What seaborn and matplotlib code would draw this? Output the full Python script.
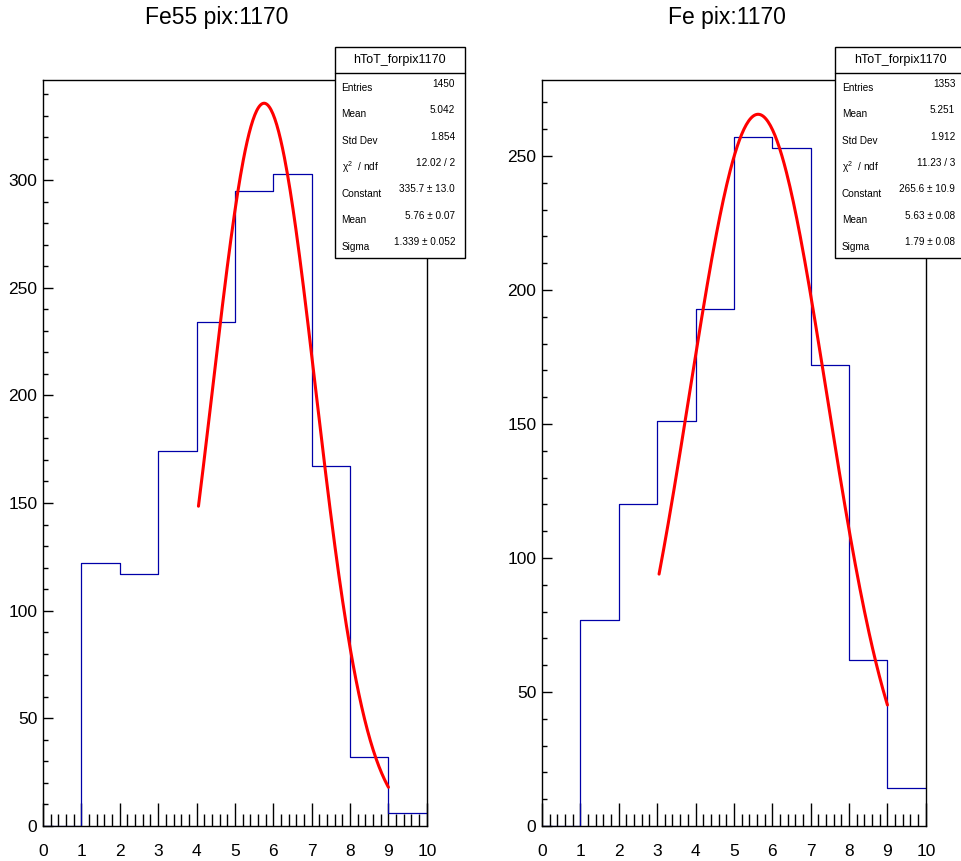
import numpy as np
import pandas as pd
import seaborn as sns
import matplotlib.pyplot as plt
from matplotlib.patches import Rectangle
from matplotlib.ticker import MultipleLocator

# histogram contents (bins of width 1 from 0 to 10)
bin_edges = [0, 1, 2, 3, 4, 5, 6, 7, 8, 9, 10]
counts_fe55 = [0, 122, 117, 174, 234, 295, 303, 167, 32, 6]
counts_fe = [0, 77, 120, 151, 193, 257, 253, 172, 62, 14]

# gaussian fit parameters (constant, mean, sigma) and fit ranges
fit_fe55 = [335.7, 5.76, 1.339]
fit_fe = [265.6, 5.63, 1.79]
range_fe55 = [4.05, 9.0]
range_fe = [3.05, 9.0]

titles = ['Fe55 pix:1170', 'Fe pix:1170']
stats_fe55 = [('Entries', '1450'), ('Mean', '5.042'), ('Std Dev', '1.854'),
              ('$\\chi^2$  / ndf', '12.02 / 2'), ('Constant', '335.7 ± 13.0'),
              ('Mean', '5.76 ± 0.07'), ('Sigma', '1.339 ± 0.052')]
stats_fe = [('Entries', '1353'), ('Mean', '5.251'), ('Std Dev', '1.912'),
            ('$\\chi^2$  / ndf', '11.23 / 3'), ('Constant', '265.6 ± 10.9'),
            ('Mean', '5.63 ± 0.08'), ('Sigma', '1.79 ± 0.08')]

sns.set_style('white')
plt.rcParams['font.family'] = ['Liberation Sans', 'DejaVu Sans']
plt.rcParams['mathtext.fontset'] = 'custom'
plt.rcParams['mathtext.rm'] = 'Liberation Sans'
plt.rcParams['mathtext.it'] = 'Liberation Sans'
plt.rcParams['text.color'] = 'black'
plt.rcParams['xtick.color'] = 'black'
plt.rcParams['ytick.color'] = 'black'

fig = plt.figure(figsize=(9.62, 8.61), dpi=100)

panels = [
    (0.0447, counts_fe55, fit_fe55, range_fe55, 346.5, titles[0], stats_fe55, 0.348, 0.2255),
    (0.5634, counts_fe, fit_fe, range_fe, 278.4, titles[1], stats_fe, 0.868, 0.7557),
]

for x0, counts, fit, frange, ymax, title, stats, box_x, title_x in panels:
    ax = fig.add_axes([x0, 0.0407, 0.399, 0.8664])
    df = pd.DataFrame({'x': np.array(bin_edges[:-1]) + 0.5, 'w': counts})
    sns.histplot(data=df, x='x', weights='w', bins=bin_edges, element='step',
                 fill=False, color='#0000a8', linewidth=0.9, ax=ax)
    c, m, s = fit
    xs = np.linspace(frange[0], frange[1], 200)
    fit_df = pd.DataFrame({'x': xs, 'y': c * np.exp(-0.5 * ((xs - m) / s) ** 2)})
    sns.lineplot(data=fit_df, x='x', y='y', color='#ff0000', linewidth=2.2, ax=ax)

    ax.set_xlim(0, 10)
    ax.set_ylim(0, ymax)
    ax.set_xlabel('')
    ax.set_ylabel('')
    ax.xaxis.set_major_locator(MultipleLocator(1))
    ax.xaxis.set_minor_locator(MultipleLocator(0.2))
    ax.yaxis.set_major_locator(MultipleLocator(50))
    ax.yaxis.set_minor_locator(MultipleLocator(10))
    ax.tick_params(axis='x', which='major', direction='in', length=16.5, width=1,
                   labelsize=12.5, pad=13, bottom=True, top=False)
    ax.tick_params(axis='x', which='minor', direction='in', length=8.6, width=1,
                   bottom=True, top=False)
    ax.tick_params(axis='y', which='major', direction='in', length=7.2, width=1,
                   labelsize=12.5, pad=4, left=True, right=False)
    ax.tick_params(axis='y', which='minor', direction='in', length=3.6, width=1,
                   left=True, right=False)
    for sp in ax.spines.values():
        sp.set_color('black')
        sp.set_linewidth(1)

    fig.text(title_x, 0.98, title, ha='center', va='center', fontsize=16.5)

    # stats box
    bw, bh = 0.135, 0.245
    by = 1 - 258 / 861
    fig.patches.append(Rectangle((box_x, by), bw, bh, transform=fig.transFigure,
                                 facecolor='white', edgecolor='black', linewidth=1, zorder=5))
    head_h = 26 / 861
    fig.lines.append(plt.Line2D([box_x, box_x + bw], [by + bh - head_h] * 2,
                                transform=fig.transFigure, color='black', linewidth=1, zorder=6))
    fig.text(box_x + bw / 2, by + bh - head_h / 2, 'hToT_forpix1170', ha='center',
             va='center', fontsize=9, zorder=7)
    row_h = (bh - head_h) / len(stats)
    for i, (name, val) in enumerate(stats):
        yy = by + bh - head_h - (i + 0.5) * row_h
        fig.text(box_x + 0.007, yy - 0.002, name, ha='left', va='center', fontsize=7.2, zorder=7)
        fig.text(box_x + bw - 0.01, yy + 0.003, val, ha='right', va='center', fontsize=7.2, zorder=7)

plt.savefig('out.png', dpi=100)
